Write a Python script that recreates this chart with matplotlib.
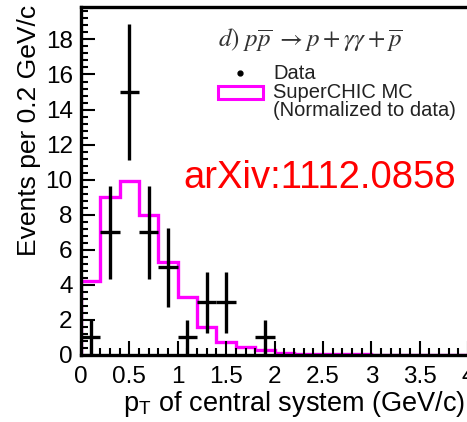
import numpy as np
import matplotlib
matplotlib.use("Agg")
import matplotlib.pyplot as plt
from matplotlib.patches import Rectangle

plt.rcParams['font.family'] = ['Liberation Sans', 'DejaVu Sans']
plt.rcParams['mathtext.fontset'] = 'stix'

# data points (bin width 0.2 GeV/c)
data_x = [0.1, 0.3, 0.5, 0.7, 0.9, 1.1, 1.3, 1.5, 1.9]
data_y = [1, 7, 15, 7, 5, 1, 3, 3, 1]
data_err = np.sqrt(data_y)

# SuperCHIC MC histogram (normalized to data)
mc_edges = np.round(np.arange(0, 4.01, 0.2), 2)
mc_vals = [4.2, 9.0, 9.9, 8.0, 5.3, 3.3, 1.6, 0.75, 0.45, 0.28,
           0.13, 0.05, 0.04, 0.03, 0.03, 0.02, 0.02, 0.02, 0.02, 0.02]

fig = plt.figure(figsize=(4.67, 4.22), dpi=100)
ax = fig.add_axes([0.1734, 0.1588, 0.829, 0.8246])

ax.stairs(mc_vals, mc_edges, color='#ff00ff', lw=2.4, baseline=0)
ax.errorbar(data_x, data_y, yerr=data_err, xerr=0.1, fmt='none',
            ecolor='black', elinewidth=2.4, capsize=0)

ax.set_xlim(0, 4)
ax.set_ylim(0, 19.85)
ax.set_xticks(np.arange(0, 4.01, 0.5))
ax.set_xticklabels(['0', '0.5', '1', '1.5', '2', '2.5', '3', '3.5', '4'])
ax.set_xticks(np.arange(0, 4.01, 0.1), minor=True)
ax.set_yticks(np.arange(0, 19, 2))
ax.set_yticks(np.arange(0, 19.8, 0.4), minor=True)
ax.tick_params(which='both', direction='in', top=False, right=False,
               labelsize=17.5, width=1.5)
ax.tick_params(which='major', length=10)
ax.tick_params(which='minor', length=5)
ax.tick_params(axis='x', pad=8)
ax.tick_params(axis='y', pad=6)

for side in ['left', 'bottom', 'top']:
    ax.spines[side].set_linewidth(2.4)
ax.spines['right'].set_linewidth(1.0)
ax.spines['right'].set_color('#555555')

ax.set_xlabel(r'p$_{\mathregular{T}}$ of central system (GeV/c)',
              fontsize=19.5, loc='right')
ax.xaxis.set_label_coords(0.992, -0.098)
ax.set_ylabel('Events per 0.2 GeV/c', fontsize=19, loc='top')
ax.yaxis.set_label_coords(-0.104, 1.006)

ax.text(0.354, 0.905, r'$d)\ p\overline{p}\ \rightarrow p+\gamma\gamma+\overline{p}$',
        transform=ax.transAxes, fontsize=18, color='#333333', va='center')

# legend drawn by hand to match the layout
ax.plot([0.411], [0.810], 'o', ms=3.5, color='black', transform=ax.transAxes)
ax.add_patch(Rectangle((0.353, 0.735), 0.116, 0.038, transform=ax.transAxes,
                       facecolor='none', edgecolor='#ff00ff', lw=2.2))
ax.text(0.496, 0.810, 'Data', transform=ax.transAxes, fontsize=14.5,
        va='center', color='#222222')
ax.text(0.496, 0.754, 'SuperCHIC MC', transform=ax.transAxes, fontsize=14.5,
        va='center', color='#222222')
ax.text(0.496, 0.702, '(Normalized to data)', transform=ax.transAxes,
        fontsize=14.5, va='center', color='#222222')

ax.text(0.264, 0.509, 'arXiv:1112.0858', transform=ax.transAxes,
        fontsize=27.5, color='red', va='center')

fig.savefig('out.png')
